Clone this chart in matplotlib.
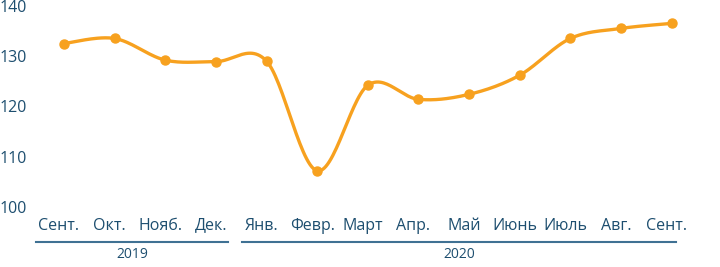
import numpy as np
import matplotlib.pyplot as plt
from matplotlib.transforms import blended_transform_factory, offset_copy

plt.rcParams['font.family'] = ['Open Sans', 'DejaVu Sans']

months = ['Сент.', 'Окт.', 'Нояб.', 'Дек.', 'Янв.', 'Февр.', 'Март', 'Апр.',
          'Май', 'Июнь', 'Июль', 'Авг.', 'Сент.']
values = [132.9, 133.9, 129.6, 129.3, 129.4, 107.6, 124.6, 121.8,
          122.8, 126.6, 133.9, 135.9, 136.9]
years = ['2019', '2020']
year_spans = [(0, 3), (4, 12)]
yticks = [100, 110, 120, 130, 140]

orange = '#f7a11f'
blue = '#1d4e6f'
rule_col = '#3f7193'


def catmull_rom(x, y, n=30):
    # smooth curve through all points, like the original chart's spline
    x = np.asarray(x, float)
    y = np.asarray(y, float)
    px = np.concatenate([[x[0]], x, [x[-1]]])
    py = np.concatenate([[y[0]], y, [y[-1]]])
    xs, ys = [], []
    t = np.linspace(0, 1, n)
    for i in range(1, len(px) - 2):
        for p, out in ((px, xs), (py, ys)):
            p0, p1, p2, p3 = p[i - 1], p[i], p[i + 1], p[i + 2]
            m1 = (p2 - p0) / 2
            m2 = (p3 - p1) / 2
            h00 = 2 * t**3 - 3 * t**2 + 1
            h10 = t**3 - 2 * t**2 + t
            h01 = -2 * t**3 + 3 * t**2
            h11 = t**3 - t**2
            out.extend(h00 * p1 + h10 * m1 + h01 * p2 + h11 * m2)
    return np.array(xs), np.array(ys)


fig = plt.figure(figsize=(7.2, 2.67), dpi=100)
ax = fig.add_axes([0.0537, 0.2172, 0.9143, 0.7536])

x = np.arange(len(values))
sx, sy = catmull_rom(x, values)
ax.plot(sx, sy, color=orange, lw=2.4, solid_capstyle='round', clip_on=False)
ax.plot(x, values, 'o', color=orange, ms=6.5, clip_on=False)

ax.set_xlim(-0.5, 12.5)
ax.set_ylim(100, 140)
ax.axis('off')

# y labels at the left edge
ty = blended_transform_factory(fig.transFigure, ax.transData)
for v in yticks:
    ax.text(0.0, v, str(v), transform=ty, ha='left', va='center',
            fontsize=11.5, color=blue)

# month labels
tx = blended_transform_factory(ax.transData, fig.transFigure)
tx_shift = offset_copy(tx, fig=fig, x=-5, y=0, units='dots')
for i, m in enumerate(months):
    ax.text(i, 1 - 225.5 / 267, m, transform=tx_shift, ha='center',
            va='center', fontsize=11.5, color=blue)

# year groups with a rule above each
pads = [(-0.55, 0.24), (-0.49, 0.09)]
for (a, b), yr, (pl, pr) in zip(year_spans, years, pads):
    y_rule = 1 - 242 / 267
    ax.plot([a + pl, b + pr], [y_rule, y_rule], color=rule_col, lw=1.5,
            transform=tx, clip_on=False)
    ax.text((a + pl + b + pr) / 2, 1 - 255 / 267, yr, transform=tx,
            ha='center', va='center', fontsize=10, color=blue)

fig.savefig('out.png', dpi=100)
